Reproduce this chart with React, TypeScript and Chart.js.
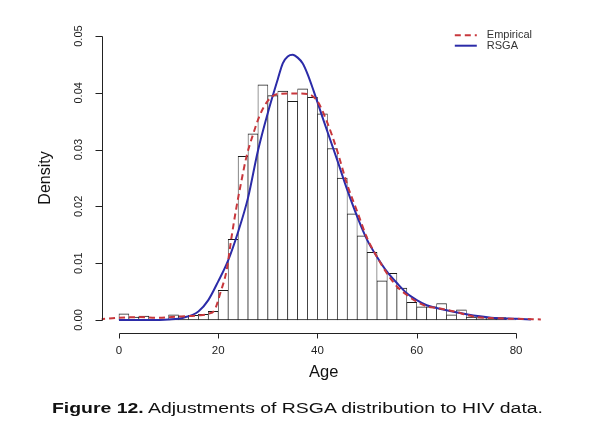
import React, { useEffect, useRef } from 'react';
import { Chart, registerables } from 'chart.js';

Chart.register(...registerables);

// Histogram bins (2-year wide), centres and densities
const binCenters = [1, 3, 5, 7, 9, 11, 13, 15, 17, 19, 21, 23, 25, 27, 29, 31, 33, 35, 37, 39, 41, 43, 45, 47, 49, 51, 53, 55, 57, 59, 61, 63, 65, 67, 69, 71, 73, 75, 77, 79];
const binDensity = [0.0011, 0.0005, 0.0007, 0.0, 0.0, 0.0009, 0.0007, 0.0008, 0.0010, 0.0015, 0.0052, 0.0142, 0.0288, 0.0328, 0.0414, 0.0395, 0.0403, 0.0385, 0.0407, 0.0392, 0.0363, 0.0302, 0.0250, 0.0187, 0.0148, 0.0119, 0.0069, 0.0082, 0.0056, 0.0031, 0.0023, 0.0023, 0.0029, 0.0009, 0.0018, 0.0005, 0.0004, 0.0004, 0.0004, 0.0002];

// Empirical density (red dashed)
const empiricalAge = [-4, 0, 4, 8, 12, 16, 18, 19.3, 20.4, 21.7, 22.7, 23.7, 24.7, 25.7, 27.1, 28.4, 30.1, 32, 35, 38, 40, 42, 44, 46, 48, 50, 52, 54, 56, 58, 60, 62, 64, 66, 68, 70, 72, 76, 80, 85];
const empiricalDensity = [0.0001, 0.0004, 0.0005, 0.0004, 0.0006, 0.0008, 0.0011, 0.0018, 0.0047, 0.0088, 0.0147, 0.0200, 0.0246, 0.0288, 0.0329, 0.0361, 0.0387, 0.0398, 0.0399, 0.0398, 0.0385, 0.0347, 0.0297, 0.0238, 0.0191, 0.0144, 0.0111, 0.0082, 0.0059, 0.0044, 0.0032, 0.0024, 0.0021, 0.0018, 0.0014, 0.0009, 0.0005, 0.0003, 0.0002, 0.0001];

// RSGA fitted density (blue solid)
const rsgaAge = [0, 6, 10, 13, 16, 18, 20, 22, 24, 26, 28, 30, 32, 33, 34, 35, 36, 37, 38, 39.2, 41.2, 44, 46, 48, 50, 52, 54, 56, 58, 60, 62, 64, 66, 70, 75, 80, 83];
const rsgaDensity = [0.0, 0.0, 0.0001, 0.0004, 0.0015, 0.0035, 0.0068, 0.0105, 0.0155, 0.0215, 0.0298, 0.0365, 0.0424, 0.0452, 0.0464, 0.0467, 0.0462, 0.0452, 0.0433, 0.0404, 0.0352, 0.0281, 0.0229, 0.0182, 0.0141, 0.0111, 0.0085, 0.0065, 0.0047, 0.0035, 0.0026, 0.0021, 0.0017, 0.0010, 0.0004, 0.0002, 0.0001];

const xTicks = [0, 20, 40, 60, 80];
const yTicks = [0, 0.01, 0.02, 0.03, 0.04, 0.05];
const legendLabels = ['Empirical', 'RSGA'];
const xTitle = 'Age';
const yTitle = 'Density';
const captionBold = 'Figure 12.';
const captionText = ' Adjustments of RSGA distribution to HIV data.';

const RED = '#c8373c';
const BLUE = '#2b2ba8';
const AXIS = '#222';
const FONT = '"Liberation Sans", Arial, Helvetica, sans-serif';
const CAPTION_WIDTH = 491;

const rAxesPlugin = {
  id: 'rAxes',
  afterDraw(chart: any) {
    const { ctx, chartArea } = chart;
    const x = chart.scales.x;
    const y = chart.scales.y;
    ctx.save();
    ctx.strokeStyle = AXIS;
    ctx.lineWidth = 1;
    ctx.beginPath();
    // y axis (R style)
    const ax = Math.round(chartArea.left) + 0.5;
    ctx.moveTo(ax, Math.round(y.getPixelForValue(yTicks[0])) + 0.5);
    ctx.lineTo(ax, Math.round(y.getPixelForValue(yTicks[yTicks.length - 1])) + 0.5);
    yTicks.forEach((v) => {
      const py = Math.round(y.getPixelForValue(v)) + 0.5;
      ctx.moveTo(ax, py);
      ctx.lineTo(ax - 7, py);
    });
    // x axis (detached below the plot)
    const ay = Math.round(chartArea.bottom + 10) + 0.5;
    ctx.moveTo(Math.round(x.getPixelForValue(xTicks[0])) + 0.5, ay);
    ctx.lineTo(Math.round(x.getPixelForValue(xTicks[xTicks.length - 1])) + 0.5, ay);
    xTicks.forEach((v) => {
      const px = Math.round(x.getPixelForValue(v)) + 0.5;
      ctx.moveTo(px, ay);
      ctx.lineTo(px, ay + 5);
    });
    ctx.stroke();

    // legend
    const lx = chartArea.right - 91;
    const ly = chartArea.top + 2;
    ctx.lineWidth = 2;
    ctx.strokeStyle = RED;
    ctx.setLineDash([6, 4]);
    ctx.beginPath();
    ctx.moveTo(lx, ly);
    ctx.lineTo(lx + 22, ly);
    ctx.stroke();
    ctx.setLineDash([]);
    ctx.strokeStyle = BLUE;
    ctx.beginPath();
    ctx.moveTo(lx, ly + 10.5);
    ctx.lineTo(lx + 22, ly + 10.5);
    ctx.stroke();
    ctx.fillStyle = '#333';
    ctx.font = '11px ' + FONT;
    ctx.textBaseline = 'middle';
    ctx.textAlign = 'left';
    ctx.fillText(legendLabels[0], lx + 32, ly);
    ctx.fillText(legendLabels[1], lx + 32, ly + 10.5);
    ctx.restore();
  },
};

export default function App() {
  const canvasRef = useRef<HTMLCanvasElement | null>(null);
  const captionRef = useRef<HTMLDivElement | null>(null);

  useEffect(() => {
    const cap = captionRef.current;
    if (cap) {
      const w = cap.scrollWidth;
      if (w > 0) cap.style.transform = `scaleX(${CAPTION_WIDTH / w})`;
    }
    const canvas = canvasRef.current;
    if (!canvas) return;
    const chart = new Chart(canvas, {
      type: 'bar',
      data: {
        datasets: [
          {
            type: 'line',
            label: legendLabels[0],
            data: empiricalAge.map((a, i) => ({ x: a, y: empiricalDensity[i] })),
            borderColor: RED,
            borderWidth: 2,
            borderDash: [6, 4],
            pointRadius: 0,
            cubicInterpolationMode: 'monotone',
            fill: false,
            order: 0,
          },
          {
            type: 'line',
            label: legendLabels[1],
            data: rsgaAge.map((a, i) => ({ x: a, y: rsgaDensity[i] })),
            borderColor: BLUE,
            borderWidth: 2,
            pointRadius: 0,
            cubicInterpolationMode: 'monotone',
            fill: false,
            order: 1,
          },
          {
            type: 'bar',
            label: 'hist',
            data: binCenters.map((c, i) => ({ x: c, y: binDensity[i] })),
            backgroundColor: '#ffffff',
            borderColor: '#1a1a1a',
            borderWidth: { top: 1, bottom: 1, left: 0.7, right: 0.7 },
            borderSkipped: false,
            barPercentage: 1,
            categoryPercentage: 1,
            order: 2,
          },
        ] as any,
      },
      options: {
        animation: false,
        responsive: false,
        events: [],
        layout: { padding: { left: 0, right: 70.2, top: 33.2, bottom: 0 } },
        plugins: {
          legend: { display: false },
          tooltip: { enabled: false },
        },
        scales: {
          x: {
            type: 'linear',
            min: -3.5,
            max: 86,
            offset: false,
            grid: { display: false },
            border: { display: false },
            afterBuildTicks: (s: any) => {
              s.ticks = xTicks.map((v) => ({ value: v }));
            },
            afterFit: (s: any) => {
              s.height = 100.2;
            },
            ticks: {
              autoSkip: false,
              maxRotation: 0,
              padding: 13,
              color: AXIS,
              font: { family: FONT, size: 11.5 },
              callback: (v: any) => String(v),
            },
            title: {
              display: true,
              text: xTitle,
              color: '#111',
              font: { family: FONT, size: 16.5 },
              padding: { top: 0, bottom: 40.5 },
            },
          },
          y: {
            type: 'linear',
            min: -0.0005,
            max: 0.0505,
            grid: { display: false },
            border: { display: false },
            afterBuildTicks: (s: any) => {
              s.ticks = yTicks.map((v) => ({ value: v }));
            },
            afterFit: (s: any) => {
              s.width = 101.6;
            },
            ticks: {
              autoSkip: false,
              minRotation: 90,
              maxRotation: 90,
              crossAlign: 'center',
              padding: 4,
              color: AXIS,
              font: { family: FONT, size: 11 },
              callback: (v: any) => Number(v).toFixed(2),
            },
            title: {
              display: true,
              text: yTitle,
              color: '#111',
              font: { family: FONT, size: 16 },
              padding: { top: 36, bottom: 0 },
            },
          },
        },
      } as any,
      plugins: [rAxesPlugin],
    });
    return () => chart.destroy();
  }, []);

  return (
    <div style={{ position: 'absolute', left: 0, top: 0, width: 616, height: 423, background: '#fff' }}>
      <canvas ref={canvasRef} width={616} height={423} style={{ display: 'block', width: 616, height: 423 }} />
      <div
        ref={captionRef}
        style={{
          position: 'absolute',
          left: 52,
          top: 399,
          fontFamily: FONT,
          fontSize: 15.5,
          color: '#111',
          whiteSpace: 'nowrap',
          lineHeight: 'normal',
          transformOrigin: 'left top',
          display: 'inline-block',
        }}
      >
        <b>{captionBold}</b>
        {captionText}
      </div>
    </div>
  );
}
